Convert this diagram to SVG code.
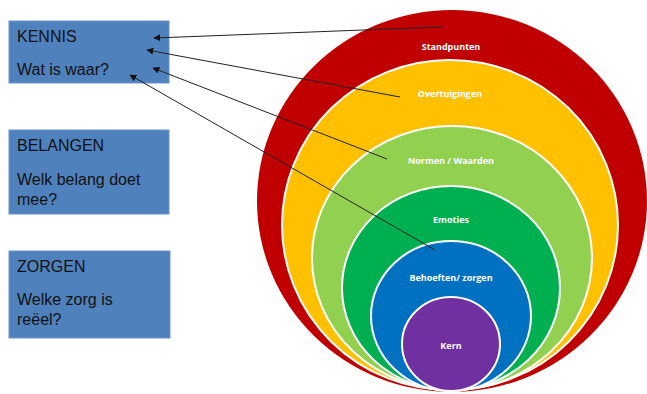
<svg xmlns="http://www.w3.org/2000/svg" width="647" height="394" viewBox="0 0 647 394">
<style>
.box{fill:#4F81BD;stroke:#6a93c8;stroke-width:1}
.bt{font-family:"Liberation Sans",Arial,sans-serif;font-size:16px;fill:#111}
.ring{stroke:#fff;stroke-width:2}
.rl{font-family:"Open Sans","Liberation Sans",sans-serif;font-size:9px;font-weight:bold;fill:#fff;text-anchor:middle}
.con{stroke:#222;stroke-width:1;fill:none;marker-end:url(#ah)}
</style>
<defs>
<marker id="ah" viewBox="0 0 10 10" refX="9" refY="5" markerWidth="7" markerHeight="7" orient="auto" markerUnits="userSpaceOnUse">
<path d="M0,0 L10,5 L0,10 z" fill="#111"/>
</marker>
</defs>
<rect width="647" height="394" fill="#fff"/>
<g id="kennis"><rect class="box" x="9" y="21" width="160" height="62"/><text class="bt" x="17" y="42">KENNIS</text><text class="bt" x="17" y="75">Wat is waar?</text></g>
<g id="belangen"><rect class="box" x="9" y="130" width="160" height="84"/><text class="bt" x="17" y="151">BELANGEN</text><text class="bt" x="17" y="185">Welk belang doet</text><text class="bt" x="17" y="205">mee?</text></g>
<g id="zorgen"><rect class="box" x="9" y="251" width="161" height="87"/><text class="bt" x="17" y="272">ZORGEN</text><text class="bt" x="17" y="305">Welke zorg is</text><text class="bt" x="17" y="325">reëel?</text></g>
<g id="standpunten"><ellipse cx="452" cy="201" rx="195" ry="191" fill="#C00000"/><text class="rl" x="451" y="50">Standpunten</text></g>
<g id="overtuigingen"><ellipse class="ring" cx="450" cy="225" rx="168" ry="165" fill="#FFC000"/><text class="rl" x="450" y="97">Overtuigingen</text></g>
<g id="normen"><ellipse class="ring" cx="452" cy="258" rx="140" ry="132" fill="#92D050"/><text class="rl" x="451" y="164">Normen / Waarden</text></g>
<g id="emoties"><ellipse class="ring" cx="451" cy="288" rx="109" ry="102" fill="#00B050"/><text class="rl" x="451" y="223">Emoties</text></g>
<g id="behoeften"><ellipse class="ring" cx="451" cy="316" rx="80" ry="75" fill="#0070C0"/><text class="rl" x="451" y="281">Behoeften/ zorgen</text></g>
<g id="kern"><ellipse class="ring" cx="451" cy="344" rx="49" ry="47" fill="#7030A0"/><text class="rl" x="451" y="349">Kern</text></g>
<g id="connectors">
<line class="con" x1="442" y1="27" x2="154" y2="38"/>
<line class="con" x1="400" y1="97" x2="147" y2="50"/>
<line class="con" x1="387" y1="159" x2="153" y2="68"/>
<line class="con" x1="435" y1="250" x2="130" y2="75"/>
</g>
</svg>
